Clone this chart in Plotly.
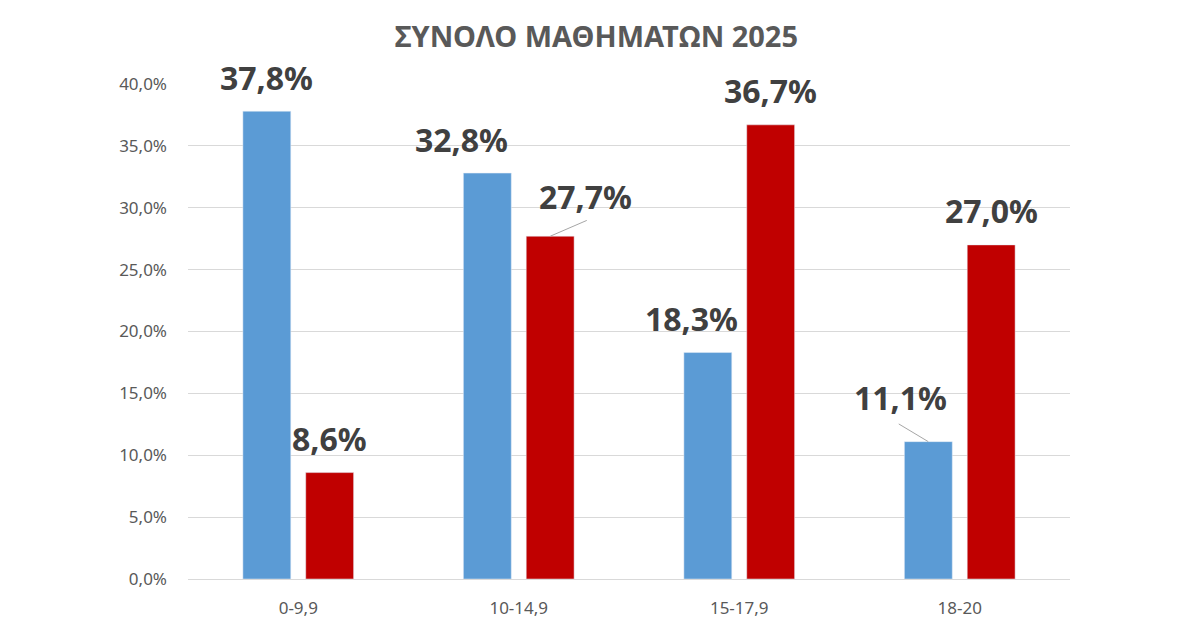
import plotly.graph_objects as go

categories = ["0-9,9", "10-14,9", "15-17,9", "18-20"]
blue_values = [37.8, 32.8, 18.3, 11.1]
red_values = [8.6, 27.7, 36.7, 27.0]
y_tickvals = [0, 5, 10, 15, 20, 25, 30, 35, 40]
y_ticktext = ["0,0%", "5,0%", "10,0%", "15,0%", "20,0%", "25,0%", "30,0%", "35,0%", "40,0%"]
title_text = "ΣΥΝΟΛΟ ΜΑΘΗΜΑΤΩΝ 2025"

BLUE = "#5b9bd5"
RED = "#c00000"
LABEL_COLOR = "#404040"
FONT = "Noto Sans"

def fmt(v):
    return f"{v:.1f}".replace(".", ",") + "%"

fig = go.Figure()
fig.add_trace(go.Bar(x=categories, y=blue_values, marker_color=BLUE, name="A"))
fig.add_trace(go.Bar(x=categories, y=red_values, marker_color=RED, name="B"))

# label placement styles (pixel offsets), keyed by (series, category index)
# leader: (label dx, label dy, line end dx, line end dy)
leader = {(1, 1): (35, 40, 37, -16), (0, 3): (-28, 44, -30, -18)}
extra_x = {(0, 1): -26, (0, 2): -16}

annotations = []
slot_half = 31.5
lab_font = dict(family=FONT, size=32, color=LABEL_COLOR, weight="bold")
for s, (vals, sign) in enumerate([(blue_values, -1), (red_values, 1)]):
    for i, (c, v) in enumerate(zip(categories, vals)):
        key = (s, i)
        if key in leader:
            dx, dy, lx, ly = leader[key]
            annotations.append(dict(
                x=c, y=v, xref="x", yref="y", xshift=sign * slot_half + dx, yshift=dy,
                text=fmt(v), showarrow=False, yanchor="middle", font=lab_font,
            ))
            # leader line
            annotations.append(dict(
                x=c, y=v, xref="x", yref="y", xshift=sign * slot_half,
                text=" ", showarrow=True, arrowhead=0, arrowwidth=1,
                arrowcolor="#a6a6a6", ax=lx, ay=ly, standoff=0,
                font=dict(size=1), borderpad=0,
            ))
        else:
            annotations.append(dict(
                x=c, y=v, xref="x", yref="y",
                xshift=sign * slot_half + extra_x.get(key, 0), yshift=34,
                text=fmt(v), showarrow=False, yanchor="middle", font=lab_font,
            ))

fig.update_layout(
    width=1200, height=626,
    margin=dict(l=188, r=130, t=84, b=47),
    paper_bgcolor="white", plot_bgcolor="white",
    barmode="group", bargap=0.43, bargroupgap=0.238,
    showlegend=False,
    title=dict(text=title_text, x=0.497, xanchor="center", y=0.941, yanchor="middle",
               font=dict(family=FONT, size=29, color="#595959", weight="bold")),
    annotations=annotations,
    xaxis=dict(type="category", showgrid=False, showline=True, linecolor="#d9d9d9",
               linewidth=1, ticks="", ticklabelstandoff=14, automargin=False,
               tickfont=dict(family=FONT, size=17, color="#595959")),
    yaxis=dict(range=[0, 40], tickvals=y_tickvals, ticktext=y_ticktext,
               showgrid=True, gridcolor="#d9d9d9", gridwidth=1, zeroline=False,
               showline=False, ticks="", ticklabelstandoff=20, automargin=False,
               tickfont=dict(family=FONT, size=17, color="#595959")),
)

fig.write_html("out.html")
